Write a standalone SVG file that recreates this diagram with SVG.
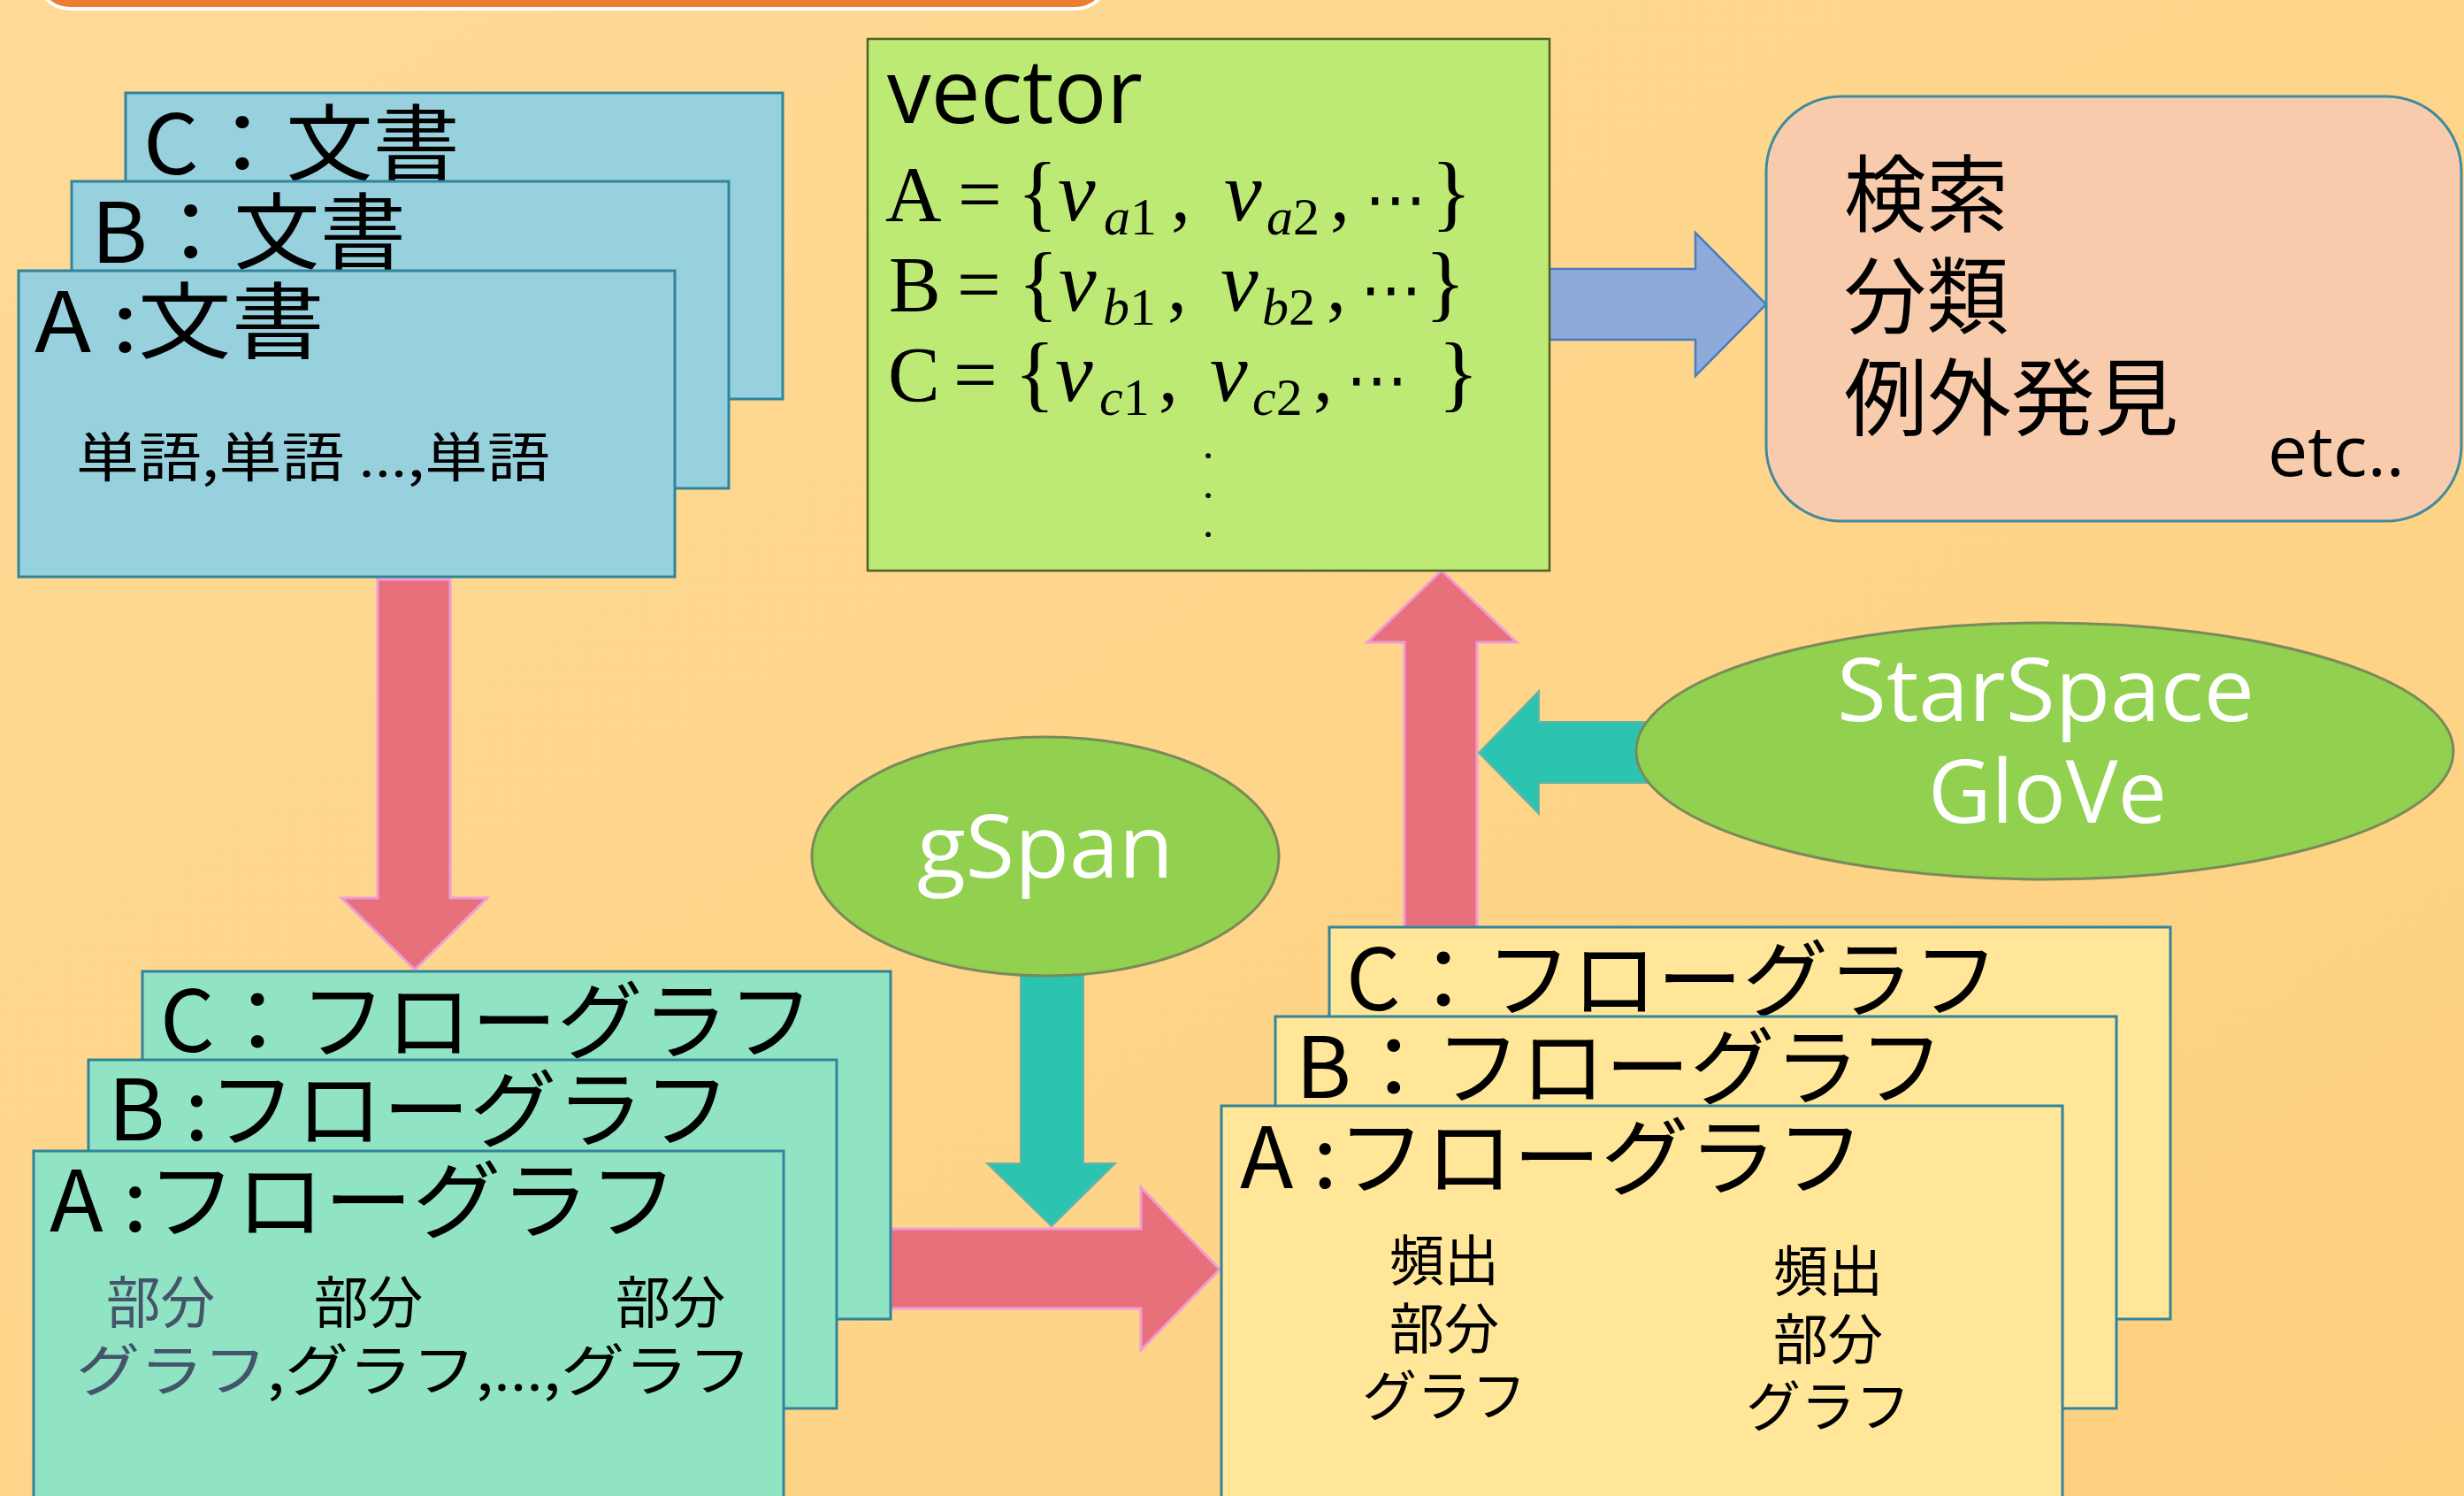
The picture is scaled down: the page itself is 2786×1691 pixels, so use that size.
<svg xmlns="http://www.w3.org/2000/svg" width="2786" height="1691" viewBox="0 0 2786 1691">
  <defs>
    <linearGradient id="bg" x1="0" y1="0" x2="1" y2="1">
      <stop offset="0" stop-color="#FFDA97"/>
      <stop offset="1" stop-color="#FDD07E"/>
    </linearGradient>
    <style>
      .doc { fill: #96D1DD; stroke: #31849B; stroke-width: 3; }
      .flowT { fill: #90E3C3; stroke: #31849B; stroke-width: 3; }
      .flowY { fill: #FFE699; stroke: #31849B; stroke-width: 3; }
      .vec { fill: #BDEA75; stroke: #4F6228; stroke-width: 2.5; }
      .use { fill: #F8CBAD; stroke: #3E8A9E; stroke-width: 3; }
      .algo { fill: #92D050; stroke: #7A8A5A; stroke-width: 3; }
      .red { fill: #E8707A; stroke: #F09CD6; stroke-width: 3; }
      .teal { fill: #2BC4B0; stroke: #6FB0A6; stroke-width: 2; }
      .blue { fill: #8EAADB; stroke: #4A7EBB; stroke-width: 2.5; }
      .jp { font-family: "Noto Sans CJK JP", "Noto Sans", sans-serif; fill: #000; }
      .lat { font-family: "Open Sans", "Noto Sans", sans-serif; }
      .m { font-family: "Liberation Serif", serif; fill: #000; font-size: 88px; }
      .it { font-style: italic; }
      .v { font-style: italic; font-size: 96px; }
      .br { font-size: 96px; }
      .sub { font-size: 60px; }
      .dots { font-family: "DejaVu Sans", sans-serif; font-size: 70px; }
      .vdot { font-family: "Liberation Serif", serif; font-size: 36px; font-weight: bold; fill: #000; }
      .ell { font-family: "Open Sans", sans-serif; }
      .wh { fill: #FFFFFF; }
      .grey { fill: #44546A; }
    </style>
  </defs>

  <!-- background -->
  <rect x="0" y="0" width="2786" height="1691" fill="url(#bg)"/>

  <!-- title bar (cut off at top edge) -->
  <rect x="40" y="-100" width="1215" height="110" rx="40" fill="#ED7D31" stroke="#FFFFFF" stroke-width="4"/>

  <!-- connectors -->
  <g id="connectors">
    <!-- documents -> flow graphs -->
    <polygon class="red" points="427,655 509,655 509,1015 551,1015 469,1096 386,1015 427,1015"/>
    <!-- flow graphs -> frequent subgraphs -->
    <polygon class="red" points="1007,1389 1290,1389 1290,1342 1379,1435 1290,1526 1290,1479 1007,1479"/>
    <!-- gSpan -> mining step -->
    <polygon class="teal" points="1154,1090 1225,1090 1225,1315 1261,1315 1189,1386 1116,1315 1154,1315"/>
    <!-- frequent subgraphs -> vector -->
    <polygon class="red" points="1588,1048 1670,1048 1670,726 1715,726 1630,645 1546,726 1588,726"/>
    <!-- StarSpace / GloVe -> embedding step -->
    <polygon class="teal" points="1875,816 1740,816 1740,781 1672,851 1740,920 1740,885 1875,885"/>
    <!-- vector -> applications -->
    <polygon class="blue" points="1752,304 1917,304 1917,263 1997,344 1917,425 1917,384 1752,384"/>
  </g>

  <!-- document stack -->
  <g id="doc-c">
    <rect class="doc" x="142" y="105" width="743" height="346"/>
    <text class="jp" x="162" y="197" font-size="94" textLength="358" lengthAdjust="spacingAndGlyphs">C：文書</text>
  </g>
  <g id="doc-b">
    <rect class="doc" x="81" y="205" width="743" height="347"/>
    <text class="jp" x="103" y="297" font-size="94" textLength="356" lengthAdjust="spacingAndGlyphs">B：文書</text>
  </g>
  <g id="doc-a">
    <rect class="doc" x="21" y="306" width="742" height="346"/>
    <text class="jp" x="39" y="398" font-size="94" textLength="328" lengthAdjust="spacingAndGlyphs">A :文書</text>
    <text class="jp" x="86" y="539" font-size="60" textLength="536" lengthAdjust="spacingAndGlyphs">単語,単語 <tspan class="ell">…</tspan>,単語</text>
  </g>

  <!-- vector node -->
  <g id="vector">
    <rect class="vec" x="981" y="44" width="771" height="601"/>
    <text class="lat" x="1003" y="139" font-size="100" fill="#000" textLength="289" lengthAdjust="spacingAndGlyphs">vector</text>
    <text class="m" y="249"><tspan x="1001">A</tspan><tspan x="1083">=</tspan><tspan x="1150" class="br">{</tspan><tspan x="1196" class="v">v</tspan><tspan x="1248" y="265" class="sub it">a</tspan><tspan class="sub">1</tspan><tspan x="1324" y="249">,</tspan><tspan x="1384" class="v">v</tspan><tspan x="1432" y="265" class="sub it">a</tspan><tspan class="sub">2</tspan><tspan x="1504" y="249">,</tspan><tspan x="1543" class="dots">⋯</tspan><tspan x="1618" class="br">}</tspan></text>
    <text class="m" y="351"><tspan x="1005">B</tspan><tspan x="1082">=</tspan><tspan x="1151" class="br">{</tspan><tspan x="1197" class="v">v</tspan><tspan x="1247" y="367" class="sub it">b</tspan><tspan class="sub">1</tspan><tspan x="1320" y="351">,</tspan><tspan x="1380" class="v">v</tspan><tspan x="1427" y="367" class="sub it">b</tspan><tspan class="sub">2</tspan><tspan x="1500" y="351">,</tspan><tspan x="1538" class="dots">⋯</tspan><tspan x="1611" class="br">}</tspan></text>
    <text class="m" y="453"><tspan x="1004">C</tspan><tspan x="1078">=</tspan><tspan x="1147" class="br">{</tspan><tspan x="1193" class="v">v</tspan><tspan x="1243" y="469" class="sub it">c</tspan><tspan class="sub">1</tspan><tspan x="1310" y="453">,</tspan><tspan x="1368" class="v">v</tspan><tspan x="1416" y="469" class="sub it">c</tspan><tspan class="sub">2</tspan><tspan x="1485" y="453">,</tspan><tspan x="1522" class="dots">⋯</tspan><tspan x="1626" class="br">}</tspan></text>
    <!-- vertical ellipsis -->
    <text class="vdot" x="1366" y="518" text-anchor="middle">.</text>
    <text class="vdot" x="1366" y="563" text-anchor="middle">.</text>
    <text class="vdot" x="1366" y="607" text-anchor="middle">.</text>
  </g>

  <!-- applications node -->
  <g id="applications">
    <rect class="use" x="1997" y="109" width="786" height="480" rx="85" ry="85"/>
    <text class="jp" x="2085" y="255" font-size="95" textLength="186" lengthAdjust="spacingAndGlyphs">検索</text>
    <text class="jp" x="2085" y="370" font-size="95" textLength="186" lengthAdjust="spacingAndGlyphs">分類</text>
    <text class="jp" x="2085" y="485" font-size="95" textLength="378" lengthAdjust="spacingAndGlyphs">例外発見</text>
    <text class="lat" x="2564" y="538" font-size="78" fill="#000" textLength="155" lengthAdjust="spacingAndGlyphs">etc..</text>
  </g>

  <!-- gSpan -->
  <g id="gspan">
    <ellipse class="algo" cx="1182" cy="968" rx="264" ry="135"/>
    <text class="lat wh" x="1037" y="992" font-size="98" textLength="290" lengthAdjust="spacingAndGlyphs">gSpan</text>
  </g>

  <!-- StarSpace / GloVe -->
  <g id="embedding">
    <ellipse class="algo" cx="2312" cy="849" rx="462" ry="145"/>
    <text class="lat wh" x="2077" y="815" font-size="98" textLength="472" lengthAdjust="spacingAndGlyphs">StarSpace</text>
    <text class="lat wh" x="2180" y="930" font-size="98" textLength="270" lengthAdjust="spacingAndGlyphs">GloVe</text>
  </g>

  <!-- flow graph stack -->
  <g id="flow-c">
    <rect class="flowT" x="161" y="1098" width="846" height="393"/>
    <text class="jp" x="181" y="1189" font-size="96" textLength="739" lengthAdjust="spacingAndGlyphs">C：フローグラフ</text>
  </g>
  <g id="flow-b">
    <rect class="flowT" x="100" y="1198" width="846" height="394"/>
    <text class="jp" x="122" y="1289" font-size="96" textLength="704" lengthAdjust="spacingAndGlyphs">B :フローグラフ</text>
  </g>
  <g id="flow-a">
    <rect class="flowT" x="38" y="1301" width="848" height="420"/>
    <text class="jp" x="56" y="1392" font-size="96" textLength="710" lengthAdjust="spacingAndGlyphs">A :フローグラフ</text>
    <text class="jp grey" x="120" y="1495" font-size="64" textLength="123" lengthAdjust="spacingAndGlyphs">部分</text>
    <text class="jp" x="355" y="1495" font-size="64" textLength="123" lengthAdjust="spacingAndGlyphs">部分</text>
    <text class="jp" x="696" y="1495" font-size="64" textLength="124" lengthAdjust="spacingAndGlyphs">部分</text>
    <text class="jp" x="86" y="1572" font-size="64" textLength="764" lengthAdjust="spacingAndGlyphs"><tspan class="grey">グラフ</tspan>,グラフ,<tspan class="ell">…</tspan>,グラフ</text>
  </g>

  <!-- frequent subgraph stack -->
  <g id="freq-c">
    <rect class="flowY" x="1503" y="1048" width="951" height="443"/>
    <text class="jp" x="1522" y="1142" font-size="96" textLength="738" lengthAdjust="spacingAndGlyphs">C：フローグラフ</text>
  </g>
  <g id="freq-b">
    <rect class="flowY" x="1442" y="1149" width="951" height="443"/>
    <text class="jp" x="1465" y="1241" font-size="96" textLength="733" lengthAdjust="spacingAndGlyphs">B：フローグラフ</text>
  </g>
  <g id="freq-a">
    <rect class="flowY" x="1381" y="1250" width="951" height="470"/>
    <text class="jp" x="1402" y="1343" font-size="96" textLength="706" lengthAdjust="spacingAndGlyphs">A :フローグラフ</text>
    <g font-size="62" text-anchor="middle">
      <text class="jp" x="1633" y="1448">頻出</text>
      <text class="jp" x="1633" y="1525">部分</text>
      <text class="jp" x="1633" y="1601">グラフ</text>
      <text class="jp" x="2067" y="1460">頻出</text>
      <text class="jp" x="2067" y="1537">部分</text>
      <text class="jp" x="2067" y="1613">グラフ</text>
    </g>
  </g>
</svg>
